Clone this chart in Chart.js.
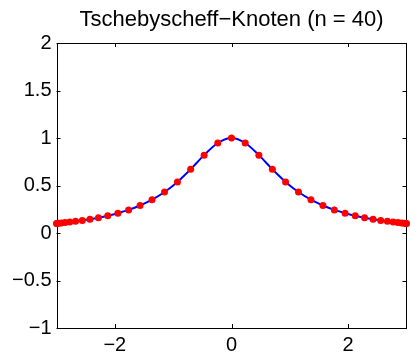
<!DOCTYPE html>
<html>
<head>
<meta charset="utf-8">
<script src="https://cdn.jsdelivr.net/npm/chart.js@4/dist/chart.umd.min.js"></script>
<style>
  html, body { margin: 0; padding: 0; background: #fff; }
  #chart { display: block; }
</style>
</head>
<body>
<canvas id="chart" width="410" height="355"></canvas>
<script>
// Tschebyscheff nodes on [-3, 3] (41 points) and values of 1/(1+x^2)
const xNodes = [-3.0, -2.9908, -2.9631, -2.9171, -2.8532, -2.7716, -2.6730, -2.5579, -2.4271, -2.2812,
  -2.1213, -1.9483, -1.7634, -1.5675, -1.3620, -1.1481, -0.9271, -0.7003, -0.4693, -0.2354, 0,
  0.2354, 0.4693, 0.7003, 0.9271, 1.1481, 1.3620, 1.5675, 1.7634, 1.9483, 2.1213,
  2.2812, 2.4271, 2.5579, 2.6730, 2.7716, 2.8532, 2.9171, 2.9631, 2.9908, 3.0];
const yNodes = [0.1000, 0.1006, 0.1023, 0.1052, 0.1094, 0.1152, 0.1228, 0.1326, 0.1451, 0.1612,
  0.1818, 0.2085, 0.2433, 0.2893, 0.3503, 0.4314, 0.5378, 0.6709, 0.8195, 0.9475, 1.0,
  0.9475, 0.8195, 0.6709, 0.5378, 0.4314, 0.3503, 0.2893, 0.2433, 0.2085, 0.1818,
  0.1612, 0.1451, 0.1326, 0.1228, 0.1152, 0.1094, 0.1052, 0.1023, 0.1006, 0.1000];
const xTicks = [-2, 0, 2];
const yTicks = [-1, -0.5, 0, 0.5, 1, 1.5, 2];
const titleText = 'Tschebyscheff\u2212Knoten (n = 40)';

const FONT = '"Liberation Sans", Arial, Helvetica, sans-serif';
const points = xNodes.map((x, i) => ({ x: x, y: yNodes[i] }));

function fmt(v) {
  return String(v).replace('-', '\u2212');
}

// MATLAB-like box with inward ticks on all four sides, title centred over the axes
const boxPlugin = {
  id: 'box',
  beforeDatasetsDraw(chart) {
    const ctx = chart.ctx;
    const a = chart.chartArea;
    const xs = chart.scales.x, ys = chart.scales.y;
    const len = 4;
    ctx.save();
    ctx.strokeStyle = '#000';
    ctx.lineWidth = 1;
    ctx.beginPath();
    xTicks.forEach(v => {
      const px = Math.round(xs.getPixelForValue(v)) + 0.5;
      ctx.moveTo(px, a.bottom); ctx.lineTo(px, a.bottom - len);
      ctx.moveTo(px, a.top); ctx.lineTo(px, a.top + len);
    });
    yTicks.forEach(v => {
      const py = Math.round(ys.getPixelForValue(v)) + 0.5;
      ctx.moveTo(a.left, py); ctx.lineTo(a.left + len, py);
      ctx.moveTo(a.right, py); ctx.lineTo(a.right - len, py);
    });
    ctx.stroke();
    ctx.strokeRect(Math.round(a.left) + 0.5, Math.round(a.top) + 0.5,
      Math.round(a.right - a.left) - 1, Math.round(a.bottom - a.top));

    ctx.fillStyle = '#000';
    ctx.font = '22px ' + FONT;
    ctx.textAlign = 'center';
    ctx.textBaseline = 'alphabetic';
    ctx.fillText(titleText, (a.left + a.right) / 2, 26);
    ctx.restore();
  }
};

new Chart(document.getElementById('chart'), {
  type: 'line',
  data: {
    datasets: [
      {
        data: points,
        showLine: false,
        pointRadius: 3.5,
        pointBackgroundColor: '#ff0000',
        pointBorderWidth: 0,
        pointHoverRadius: 3.5,
        clip: false,
        order: 0
      },
      {
        data: points,
        borderColor: '#0000ff',
        borderWidth: 2,
        pointRadius: 0,
        cubicInterpolationMode: 'monotone',
        order: 1
      }
    ]
  },
  options: {
    responsive: false,
    animation: false,
    layout: { padding: { left: 0, right: 1, top: 43, bottom: 0 } },
    plugins: {
      legend: { display: false },
      tooltip: { enabled: false },
      title: { display: false }
    },
    scales: {
      x: {
        type: 'linear',
        min: -3,
        max: 3,
        grid: { display: false, drawTicks: false },
        border: { display: false },
        afterBuildTicks: s => { s.ticks = xTicks.map(v => ({ value: v })); },
        afterFit: s => { s.height = 27; },
        ticks: {
          color: '#000',
          padding: 5,
          maxRotation: 0,
          font: { family: FONT, size: 20 },
          callback: v => fmt(v)
        }
      },
      y: {
        type: 'linear',
        min: -1,
        max: 2,
        grid: { display: false, drawTicks: false },
        border: { display: false },
        afterBuildTicks: s => { s.ticks = yTicks.map(v => ({ value: v })); },
        afterFit: s => { s.width = 56.5; },
        ticks: {
          color: '#000',
          padding: 5,
          font: { family: FONT, size: 20 },
          callback: v => fmt(v)
        }
      }
    }
  },
  plugins: [boxPlugin]
});
</script>
</body>
</html>
